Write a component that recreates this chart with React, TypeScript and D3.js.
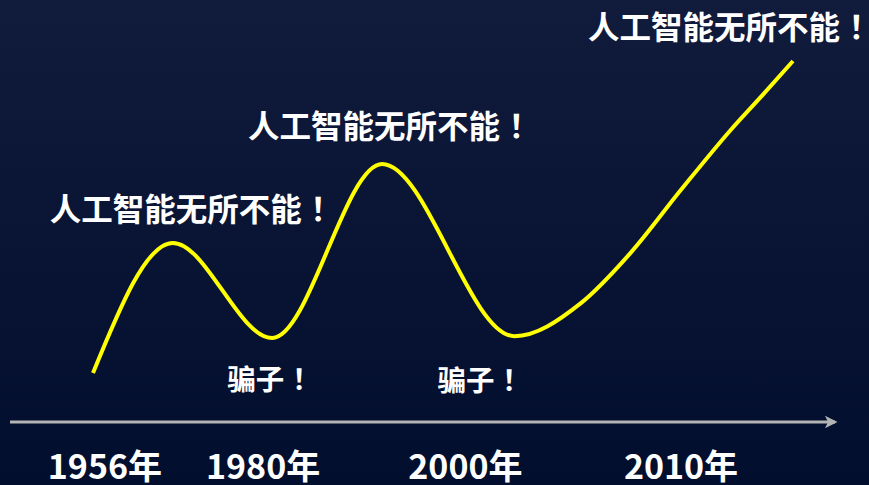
import { useMemo } from "react";
import * as d3 from "d3";

const WIDTH = 869;
const HEIGHT = 485;
const MARGIN = { top: 61, right: 76, bottom: 112, left: 93 };
const FONT = "'Noto Sans CJK SC', 'Noto Sans', sans-serif";

// hype curve: t = time phase (0-100), h = expectation level (0-100)
const curveT = [0, 11.4, 25.6, 41.3, 60.2, 69.7, 76.8, 84.0, 91.1, 95.9, 100];
const curveH = [0, 41.7, 11.2, 67.0, 11.8, 22.4, 38.5, 58.7, 77.9, 89.7, 100];

// annotations anchored to curve points (index into curve arrays)
const noteText = ["人工智能无所不能", "人工智能无所不能", "人工智能无所不能", "骗子", "骗子"];
const noteAnchor = [1, 3, 10, 2, 4];
const noteDx = [-123, -134, -205, -45, -77];
const noteDy = [-36, -40, -36, 39, 42];
const noteSize = [31.5, 31.5, 31.5, 28.5, 28.5];

// timeline labels
const years = ["1956年", "1980年", "2000年", "2010年"];
const yearT = [1.7, 24.3, 53.2, 84.0];

export default function App() {
  const boundsWidth = WIDTH - MARGIN.left - MARGIN.right;
  const boundsHeight = HEIGHT - MARGIN.top - MARGIN.bottom;

  const xScale = useMemo(
    () => d3.scaleLinear().domain([0, 100]).range([0, boundsWidth]),
    [boundsWidth]
  );
  const yScale = useMemo(
    () => d3.scaleLinear().domain([0, 100]).range([boundsHeight, 0]),
    [boundsHeight]
  );

  const points = curveT.map((t, i) => [t, curveH[i]] as [number, number]);
  const path = d3
    .line<[number, number]>()
    .x((d) => xScale(d[0]))
    .y((d) => yScale(d[1]))
    .curve(d3.curveMonotoneX)(points);

  const axisY = boundsHeight + 49;

  return (
    <div style={{ position: "fixed", left: 0, top: 0 }}>
      <svg width={WIDTH} height={HEIGHT} style={{ display: "block" }}>
        <defs>
          <linearGradient id="bg" x1="0" y1="0" x2="0" y2="1">
            <stop offset="0%" stopColor="#111b3c" />
            <stop offset="100%" stopColor="#020e2e" />
          </linearGradient>
          <marker
            id="arrow"
            viewBox="0 0 10 10"
            refX="8"
            refY="5"
            markerWidth="4.2"
            markerHeight="4.2"
            orient="auto"
          >
            <path d="M0,0 L10,5 L0,10 L2.5,5 Z" fill="#b4b4b4" />
          </marker>
        </defs>
        <rect width={WIDTH} height={HEIGHT} fill="url(#bg)" />
        <g transform={`translate(${MARGIN.left},${MARGIN.top})`}>
          <line
            x1={-83}
            x2={742}
            y1={axisY}
            y2={axisY}
            stroke="#b4b4b4"
            strokeWidth={3}
            markerEnd="url(#arrow)"
          />
          <path d={path ?? ""} fill="none" stroke="#ffff00" strokeWidth={4} />
          {noteText.map((txt, i) => {
            const a = noteAnchor[i];
            return (
              <text
                key={i}
                x={xScale(curveT[a]) + noteDx[i]}
                y={yScale(curveH[a]) + noteDy[i]}
                textAnchor="start"
                dominantBaseline="central"
                fontFamily={FONT}
                fontWeight={700}
                fontSize={noteSize[i]}
                fill="#ffffff"
              >
                <tspan>{txt}</tspan>
                <tspan dx={noteSize[i] * 0.27}>！</tspan>
              </text>
            );
          })}
          {years.map((y, i) => (
            <text
              key={y}
              x={xScale(yearT[i])}
              y={axisY + 57}
              textAnchor="middle"
              fontFamily={FONT}
              fontWeight={700}
              fontSize={34}
              fill="#ffffff"
            >
              {y}
            </text>
          ))}
        </g>
      </svg>
    </div>
  );
}
